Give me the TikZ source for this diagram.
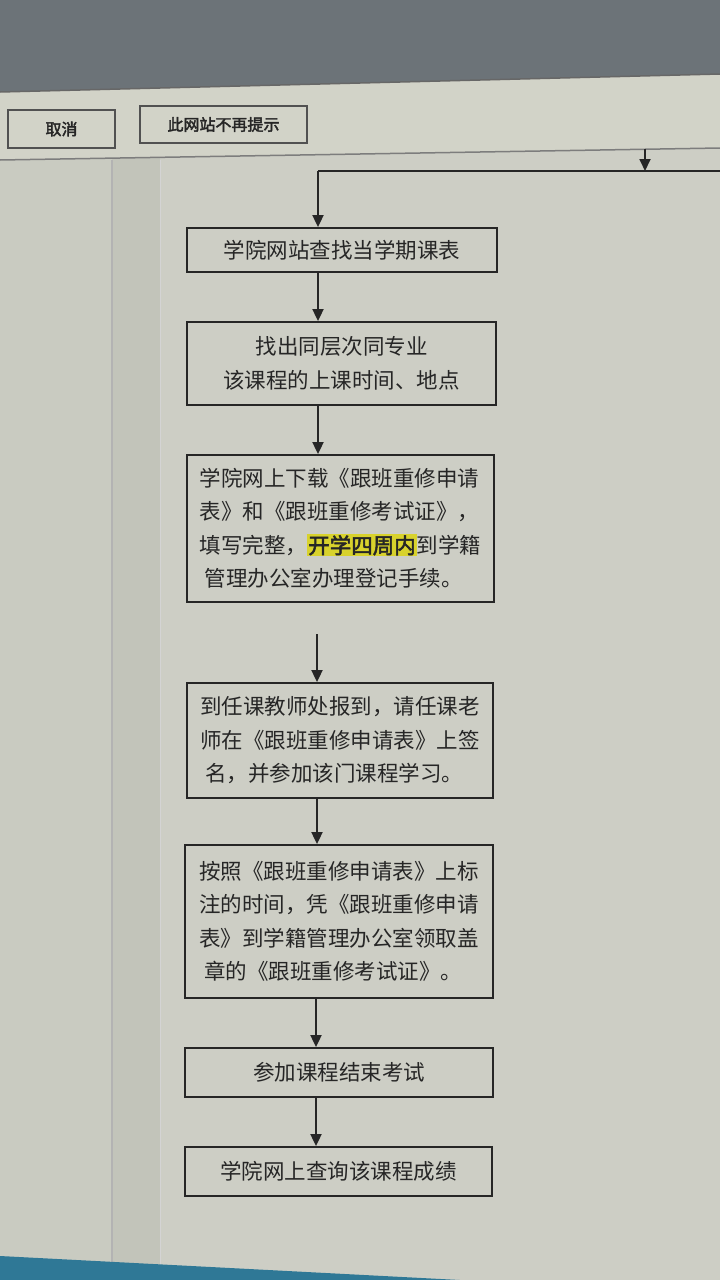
\documentclass[tikz,border=0pt]{standalone}
\usepackage{fontspec}
\setmainfont{Noto Sans CJK SC}
\newfontfamily\cjkbold[FakeBold=2.5]{Noto Sans CJK SC}
\usetikzlibrary{arrows.meta}
\definecolor{screen}{HTML}{CDCEC5}
\definecolor{toolbar}{HTML}{D2D3C8}
\definecolor{leftpane}{HTML}{C9CBC1}
\definecolor{colpane}{HTML}{C2C4BA}
\definecolor{topdark}{HTML}{6C7378}
\definecolor{bluebar}{HTML}{2F7896}
\definecolor{ink}{HTML}{262626}
\definecolor{hl}{HTML}{D8D22C}
\tikzset{
  flowbox/.style={draw=ink, line width=1.8pt, rectangle, inner sep=0pt, text=ink,
    font=\fontsize{21.5}{33.5}\selectfont, align=center},
  btn/.style={draw=ink!80, line width=1.4pt, rectangle, inner sep=0pt, text=ink,
    font=\cjkbold\fontsize{16}{18}\selectfont},
  arr/.style={draw=ink, line width=1.8pt, -{Triangle[width=11pt,length=12pt]}},
  conn/.style={draw=ink, line width=1.8pt}
}
\newcommand{\hlbox}[1]{{\setlength{\fboxsep}{1pt}\colorbox{hl}{\cjkbold #1}}}
\begin{document}
\begin{tikzpicture}[x=1pt,y=-1pt]
\useasboundingbox (0,0) rectangle (720,1280);
% backgrounds
\fill[screen] (0,0) rectangle (720,1280);
\fill[leftpane] (0,150) rectangle (112,1280);
\fill[colpane] (112,150) rectangle (160,1280);
\draw[ink!35, line width=1.2pt] (112,160) -- (112,1262);
\draw[ink!20, line width=0.8pt] (160,160) -- (160,1268);
\fill[toolbar] (0,90) -- (720,74) -- (720,148) -- (0,160) -- cycle;
\fill[topdark] (0,0) -- (720,0) -- (720,74) -- (0,92) -- cycle;
\draw[ink!70, line width=1.5pt] (0,92) -- (720,74);
\draw[ink!60, line width=1.5pt] (0,160) -- (720,148);
\fill[bluebar] (0,1256) -- (460,1280) -- (0,1280) -- cycle;
% buttons
\node[btn, minimum width=107pt, minimum height=38pt] (cancel) at (61.5,129) {取消};
\node[btn, minimum width=167pt, minimum height=37pt] (nomore) at (223.5,124.5) {此网站不再提示};
% flow boxes
\node[flowbox, minimum width=310pt, minimum height=44pt] (b1) at (342,250) {学院网站查找当学期课表};
\node[flowbox, minimum width=309pt, minimum height=83pt] (b2) at (341.5,363.5) {找出同层次同专业\\该课程的上课时间、地点};
\node[flowbox, minimum width=307pt, minimum height=147pt, align=left] (b3) at (340.5,528.5)
  {学院网上下载《跟班重修申请\\表》和《跟班重修考试证》，\\填写完整，\hlbox{开学四周内}到学籍\\\ 管理办公室办理登记手续。};
\node[flowbox, minimum width=306pt, minimum height=115pt, align=left] (b4) at (340,740.5)
  {到任课教师处报到，请任课老\\师在《跟班重修申请表》上签\\\ 名，并参加该门课程学习。};
\node[flowbox, minimum width=308pt, minimum height=153pt, align=left] (b5) at (339,921.5)
  {按照《跟班重修申请表》上标\\注的时间，凭《跟班重修申请\\表》到学籍管理办公室领取盖\\\ 章的《跟班重修考试证》。};
\node[flowbox, minimum width=308pt, minimum height=49pt] (b6) at (339,1072.5) {参加课程结束考试};
\node[flowbox, minimum width=307pt, minimum height=49pt] (b7) at (338.5,1171.5) {学院网上查询该课程成绩};
% connector coordinates
\coordinate (topin) at (645,149);
\coordinate (rail) at (720,171);
\coordinate (railL) at (318,171);
\coordinate (railT) at (645,171);
\coordinate (gap) at (317,634);
\coordinate (c1) at (318,0);
\coordinate (c2) at (317,0);
\coordinate (c3) at (316,0);
% connectors
\draw[arr] (topin) -- (railT);
\draw[conn] (rail) -- (railL);
\draw[arr] (railL) -- (b1.north -| railL);
\draw[arr] (b1.south -| c1) -- (b2.north -| c1);
\draw[arr] (b2.south -| c1) -- (b3.north -| c1);
\draw[arr] (gap) -- (b4.north -| c2);
\draw[arr] (b4.south -| c2) -- (b5.north -| c2);
\draw[arr] (b5.south -| c3) -- (b6.north -| c3);
\draw[arr] (b6.south -| c3) -- (b7.north -| c3);
\end{tikzpicture}
\end{document}
